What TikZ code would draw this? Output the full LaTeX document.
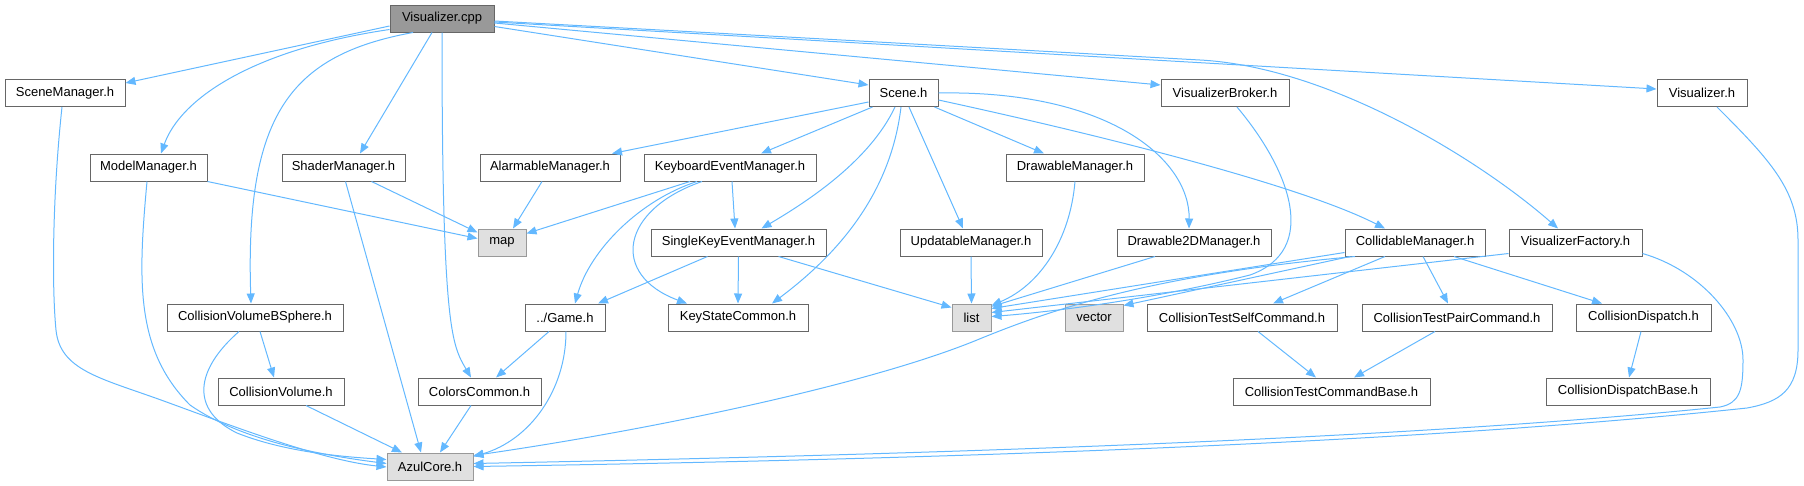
\documentclass[tikz,border=0pt]{standalone}
\usepackage{fontspec}
\setmainfont{Liberation Sans}
\usetikzlibrary{arrows.meta}
\definecolor{eb}{HTML}{63B8FF}
\definecolor{nb}{HTML}{666666}
\definecolor{gb}{HTML}{999999}
\definecolor{gf}{HTML}{E0E0E0}
\begin{document}
\begin{tikzpicture}[x=1pt,y=-1pt,
  nd/.style={draw=nb,fill=white,line width=1pt,minimum height=27pt,inner sep=0pt,font=\fontsize{13}{15}\selectfont},
  ext/.style={nd,draw=gb,fill=gf},
  root/.style={nd,fill=gb,draw=nb},
  e/.style={draw=eb,line width=1pt,-{Triangle[length=10pt,width=8pt]}}]
\useasboundingbox (0,0) rectangle (1804,485);
% row 1
\node[root,minimum width=104] (cpp) at (442,18.5) {Visualizer.cpp};
% row 2
\node[nd,minimum width=120] (sm) at (65,93) {SceneManager.h};
\node[nd,minimum width=69] (scene) at (903.5,93) {Scene.h};
\node[nd,minimum width=128] (vb) at (1225,93) {VisualizerBroker.h};
\node[nd,minimum width=90] (vh) at (1702,93) {Visualizer.h};
% row 3
\node[nd,minimum width=117] (mm) at (148.5,167.5) {ModelManager.h};
\node[nd,minimum width=123] (shm) at (343.5,167.5) {ShaderManager.h};
\node[nd,minimum width=140] (am) at (550,167.5) {AlarmableManager.h};
\node[nd,minimum width=172] (kem) at (730,167.5) {KeyboardEventManager.h};
\node[nd,minimum width=138] (dm) at (1075,167.5) {DrawableManager.h};
% row 4
\node[ext,minimum width=48] (map) at (502,242.5) {map};
\node[nd,minimum width=175] (skem) at (738.5,242.5) {SingleKeyEventManager.h};
\node[nd,minimum width=142] (um) at (971,242.5) {UpdatableManager.h};
\node[nd,minimum width=154] (d2d) at (1194,242.5) {Drawable2DManager.h};
\node[nd,minimum width=140] (cm) at (1415,242.5) {CollidableManager.h};
\node[nd,minimum width=133] (vf) at (1575.5,242.5) {VisualizerFactory.h};
% row 5
\node[nd,minimum width=176] (cvbs) at (255,317.5) {CollisionVolumeBSphere.h};
\node[nd,minimum width=80] (game) at (565,317.5) {../Game.h};
\node[nd,minimum width=140] (ksc) at (738,317.5) {KeyStateCommon.h};
\node[ext,minimum width=39] (list) at (971.5,317.5) {list};
\node[ext,minimum width=58] (vector) at (1094,317.5) {vector};
\node[nd,minimum width=190] (cts) at (1242,317.5) {CollisionTestSelfCommand.h};
\node[nd,minimum width=190] (ctp) at (1457,317.5) {CollisionTestPairCommand.h};
\node[nd,minimum width=135] (cd) at (1643.5,317.5) {CollisionDispatch.h};
% row 6
\node[nd,minimum width=126] (cv) at (281,391.5) {CollisionVolume.h};
\node[nd,minimum width=123] (cc) at (479.5,391.5) {ColorsCommon.h};
\node[nd,minimum width=197] (ctb) at (1331.5,391.5) {CollisionTestCommandBase.h};
\node[nd,minimum width=164] (cdb) at (1628,391.5) {CollisionDispatchBase.h};
% row 7
\node[ext,minimum width=86] (azul) at (430,466.5) {AzulCore.h};

% edges from Visualizer.cpp
\draw[e] ([yshift=-7.5]cpp.west) -- ([yshift=10]sm.east);
\draw[e] ([yshift=-11]cpp.west) .. controls (250,50) and (180,100) .. ([xshift=12.5]mm.north);
\draw[e] ([xshift=-29]cpp.south) .. controls (290,55) and (245,115) .. ([xshift=-4]cvbs.north);
\draw[e] ([xshift=-10]cpp.south) -- ([xshift=16.5]shm.north);
\draw[e] (cpp.south) .. controls (442,330) and (452,345) .. ([xshift=-8.5]cc.north);
\draw[e] ([yshift=-8]cpp.east) -- ([yshift=8]scene.west);
\draw[e] ([yshift=-4.5]cpp.east) -- ([yshift=8]vb.west);
\draw[e] ([yshift=-3.5]cpp.east) -- ([yshift=4]vh.west);
\draw[e] ([yshift=-2.5]cpp.east) .. controls (900,43) and (1100,54.5) .. (1200,60) .. controls (1330,67) and (1480,160) .. ([xshift=-17.5]vf.north);
% Scene.h
\draw[e] ([yshift=-9]scene.west) -- ([xshift=62]am.north);
\draw[e] ([xshift=-31]scene.south) -- ([xshift=31]kem.north);
\draw[e] ([xshift=-8.5]scene.south) .. controls (870,160) and (810,200) .. ([xshift=23]skem.north);
\draw[e] ([xshift=-2.5]scene.south) .. controls (890,200) and (830,260) .. ([xshift=34]ksc.north);
\draw[e] ([xshift=5.5]scene.south) -- ([xshift=-8]um.north);
\draw[e] ([xshift=31]scene.south) -- ([xshift=-31]dm.north);
\draw[e] (scene.east) .. controls (1110,90) and (1190,160) .. ([xshift=-5]d2d.north);
\draw[e] ([yshift=-7]scene.east) .. controls (1100,135) and (1300,185) .. ([xshift=-30]cm.north);
% KeyboardEventManager.h
\draw[e] ([xshift=-40]kem.south) -- ([yshift=9]map.east);
\draw[e] ([xshift=2]kem.south) -- ([xshift=-3.5]skem.north);
\draw[e] ([xshift=-33]kem.south) .. controls (640,200) and (590,250) .. ([xshift=10]game.north);
\draw[e] ([xshift=-28]kem.south) .. controls (620,210) and (610,275) .. ([xshift=-51]ksc.north);
% map sources
\draw[e] ([xshift=-8]am.south) -- ([xshift=11]map.north);
\draw[e] (mm.south east) -- ([yshift=4]map.west);
\draw[e] ([xshift=28]shm.south) -- ([yshift=10]map.west);
% AzulCore sources (left)
\draw[e] ([xshift=2]shm.south) -- ([xshift=-9]azul.north);
\draw[e] ([xshift=-1.5]mm.south) .. controls (138,280) and (135,350) .. (190,405) .. controls (240,440) and (320,455) .. ([yshift=3]azul.west);
\draw[e] ([xshift=-3]sm.south) .. controls (52,200) and (52,290) .. (56,330) .. controls (60,370) and (100,378) .. (161,400) .. controls (230,425) and (320,460) .. ([yshift=-0.5]azul.west);
\draw[e] ([xshift=-16]cvbs.south) .. controls (195,370) and (190,410) .. (237,433) .. controls (280,450) and (330,456) .. ([yshift=7]azul.west);
\draw[e] ([xshift=5]cvbs.south) -- ([xshift=-7]cv.north);
\draw[e] ([xshift=25]cv.south) -- ([xshift=-28]azul.north);
\draw[e] ([xshift=-8.5]cc.south) -- ([xshift=10]azul.north);
\draw[e] ([xshift=-16]game.south) -- ([xshift=16.5]cc.north);
\draw[e] ([xshift=1]game.south) .. controls (566,390) and (530,440) .. ([yshift=10]azul.east);
% SingleKeyEventManager.h
\draw[e] ([xshift=-31]skem.south) -- ([xshift=33]game.north);
\draw[e] (skem.south) -- (ksc.north);
\draw[e] ([xshift=40]skem.south) -- ([yshift=10]list.west);
% list sources
\draw[e] (um.south) -- (list.north);
\draw[e] (dm.south) .. controls (1070,240) and (1040,285) .. ([yshift=12]list.east);
\draw[e] ([xshift=-39]d2d.south) -- ([yshift=11]list.east);
\draw[e] ([yshift=-10]cm.west) -- ([yshift=9]list.east);
\draw[e] ([yshift=-11]vf.west) -- ([yshift=5]list.east);
\draw[e] ([xshift=12]vb.south) .. controls (1290,170) and (1320,250) .. (1250,275) .. controls (1150,300) and (1050,312) .. ([yshift=1]list.east);
% CollidableManager.h
\draw[e] ([xshift=-65]cm.south) -- ([yshift=12]vector.east);
\draw[e] ([xshift=-60]cm.south) .. controls (1150,275) and (1050,310) .. (977,340) .. controls (867,385) and (650,430) .. ([yshift=11]azul.east);
\draw[e] ([xshift=-30]cm.south) -- ([xshift=31]cts.north);
\draw[e] ([xshift=8]cm.south) -- ([xshift=-9]ctp.north);
\draw[e] ([xshift=39]cm.south) -- ([xshift=-41.5]cd.north);
\draw[e] ([xshift=16]cts.south) -- ([xshift=-15.5]ctb.north);
\draw[e] ([xshift=-22]ctp.south) -- ([xshift=22.5]ctb.north);
\draw[e] ([xshift=-2.5]cd.south) -- ([xshift=1]cdb.north);
% long edges to AzulCore on the right
\draw[e] ([yshift=-11]vf.east) .. controls (1700,270) and (1743,320) .. (1743,360) .. controls (1743,390) and (1740,403) .. (1720,407) .. controls (1400,440) and (900,455) .. ([yshift=3]azul.east);
\draw[e] ([xshift=15]vh.south) .. controls (1770,160) and (1798,190) .. (1798,240) -- (1798,350) .. controls (1798,390) and (1780,402) .. (1747,408) .. controls (1400,445) and (900,460) .. ([yshift=0]azul.east);
\end{tikzpicture}
\end{document}
